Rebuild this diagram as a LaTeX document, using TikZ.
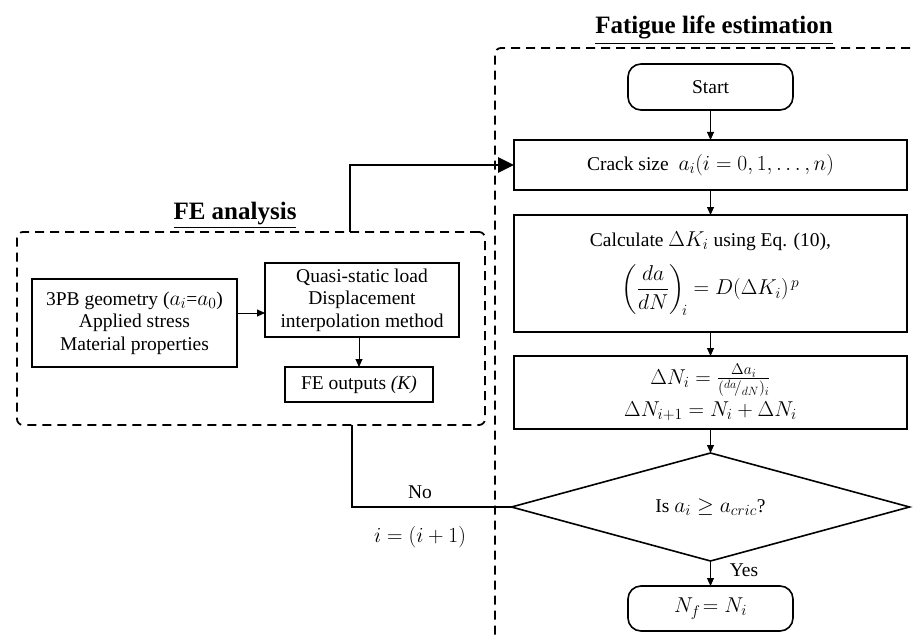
\RequirePackage{fix-cm}
\documentclass[tikz,border=0pt]{standalone}
\usepackage{fontspec}
\setmainfont{Liberation Serif}
\usepackage{amsmath}
\DeclareMathSizes{19.5}{21.5}{15.5}{12}
\usetikzlibrary{arrows.meta,shapes.geometric,calc}
\begin{document}
\begin{tikzpicture}[x=1pt,y=-1pt,
  txt/.style={font=\fontsize{19.5}{22.5}\selectfont},
  box/.style={draw, line width=1.6pt, txt, align=center, inner sep=0pt, outer sep=0pt},
  rbox/.style={box, rounded corners=13pt},
  thinarrow/.style={line width=0.9pt, -{Triangle[length=8pt,width=7pt]}},
  boldline/.style={line width=2.8pt},
  dashedbox/.style={dash pattern=on 9pt off 6pt, line width=1.8pt},
  ttl/.style={font=\fontsize{25}{28}\selectfont\bfseries, anchor=base}
]
\clip (0,0) rectangle (915,639);
% dashed frames
\coordinate (rtop) at (940,48);
\coordinate (rbot) at (495,680);
\draw[dashedbox, rounded corners=6pt] (rtop) -- (495,48) -- (rbot);
\node[dashedbox, draw, rounded corners=6pt, minimum width=468pt, minimum height=193pt, inner sep=0pt, outer sep=0pt] (febox) at (251,328.5) {};
% titles
\node[ttl] (t1) at (714,34) {\underline{Fatigue life estimation}};
\node[ttl] (t2) at (235,219) {\underline{FE analysis}};
% right flowchart
\node[rbox, minimum width=165pt, minimum height=46pt] (start) at (710.5,87) {Start};
\node[box, minimum width=393pt, minimum height=50pt] (crack) at (710.5,165) {Crack size\ \ $a_i(i=0,1,\ldots,n)$};
\node[box, minimum width=393pt, minimum height=117pt] (calc) at (710.5,273.5) {Calculate $\Delta K_i$ using Eq. (10),\\[13pt] $\left(\dfrac{da}{dN}\right)_{\!i} = D(\Delta K_i)^{\,p}$};
\node[box, minimum width=393pt, minimum height=73pt] (dn) at (710.5,392.5) {$\Delta N_i=\frac{\Delta a_i}{({}^{da}\!/_{dN})_i}$\\[4pt] $\Delta N_{i+1}=N_i+\Delta N_i$};
\node[box, diamond, aspect=3.7, minimum width=398pt, minimum height=108pt] (dec) at (710.5,507) {Is $a_i\geq a_{cric}$?};
\node[rbox, minimum width=165pt, minimum height=45pt] (nf) at (710.5,608.5) {$N_f\!= N_i$};
% left flowchart
\node[box, minimum width=205pt, minimum height=88pt] (geo) at (134.5,323) {3PB geometry ($a_i$=$a_0$)\\Applied stress\\Material properties};
\node[box, minimum width=194pt, minimum height=74pt] (quasi) at (362,300) {Quasi-static load\\Displacement\\interpolation method};
\node[box, minimum width=148pt, minimum height=35pt] (feout) at (359,384.5) {FE outputs \textit{(K)}};
% thin arrows
\draw[thinarrow] ([yshift=10pt]geo.east) -- ([yshift=10pt]geo.east -| quasi.west);
\draw[thinarrow] (quasi.south -| feout.north) -- (feout.north);
\draw[thinarrow] (start.south) -- (crack.north);
\draw[thinarrow] (crack.south) -- (calc.north);
\draw[thinarrow] (calc.south) -- (dn.north);
\draw[thinarrow] (dn.south) -- (dec.north);
\draw[thinarrow] (dec.south) -- (nf.north);
% bold connectors
\draw[boldline, -{Triangle[length=16pt,width=15pt]}] ([xshift=99pt]febox.north) |- (crack.west);
\draw[boldline] (dec.west) -| ([xshift=101pt]febox.south);
% labels
\node[txt] (yes) at (744,570) {Yes};
\node[txt] (no) at (420,492) {No};
\node[txt] (inc) at (420,537) {$i=(i+1)$};
\end{tikzpicture}
\end{document}
